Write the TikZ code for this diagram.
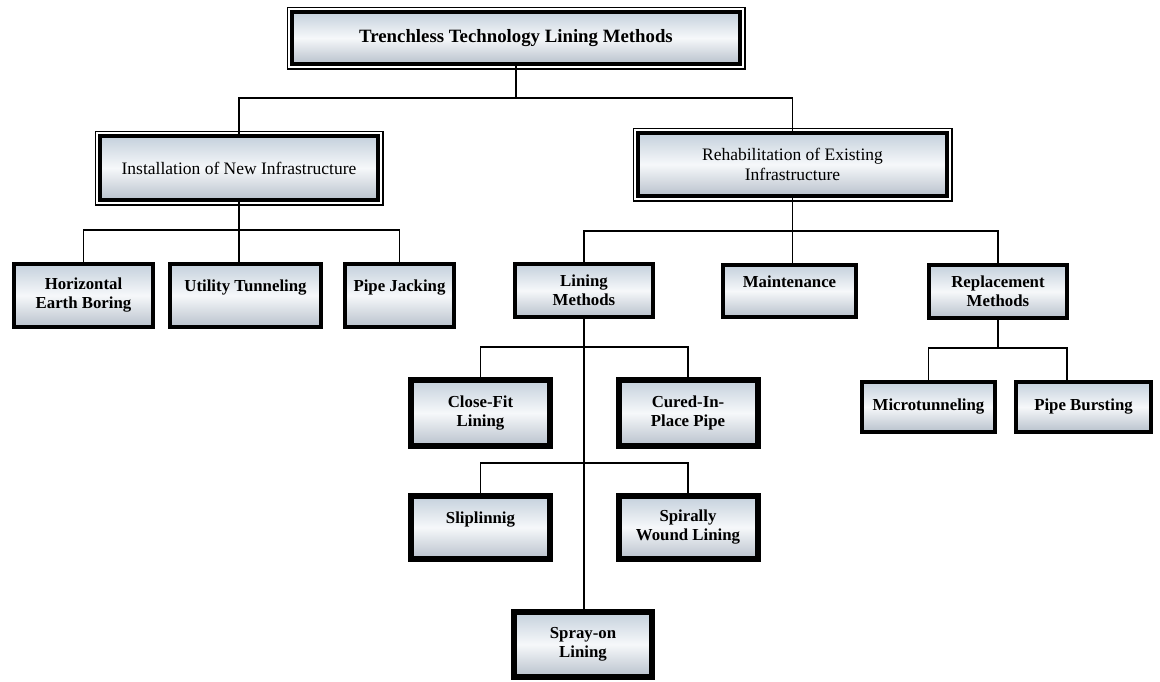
\documentclass[tikz,border=0pt]{standalone}
\usepackage{fontspec}
\setmainfont{Liberation Serif}
\usetikzlibrary{calc}
\definecolor{boxtop}{RGB}{196,208,220}
\definecolor{boxmid}{RGB}{246,248,250}
\definecolor{boxbot}{RGB}{184,193,204}

\begin{document}
\begin{tikzpicture}[x=1pt,y=-1pt]
    \tikzstyle{base box}=[
        rectangle,
        draw = black,
        align = center,
        inner sep = 2pt,
        top color = boxtop,
        bottom color = boxbot,
        middle color = boxmid
    ]
    \tikzstyle{main box}=[base box, line width=3.5pt,
        font=\fontsize{17.5}{20}\selectfont]
    \tikzstyle{leaf box}=[base box, line width=4pt,
        font=\fontsize{16.8}{19}\selectfont\bfseries]
    \tikzstyle{heavy box}=[base box, line width=6pt,
        font=\fontsize{16.8}{19}\selectfont\bfseries]
    \tikzstyle{frame}=[draw = black, line width=1.5pt]
    \tikzstyle{link}=[draw = black, line width=1.5pt]

    \useasboundingbox (0,0) rectangle (1160,681);

    \node[main box, minimum width=448, minimum height=52,
          font=\fontsize{18.8}{21}\selectfont\bfseries] (root) at (516,38) {Trenchless Technology Lining Methods};
    \node[main box, minimum width=278, minimum height=64] (install) at (239,168) {Installation of New Infrastructure};
    \node[main box, minimum width=309, minimum height=63] (rehab) at (792.5,164.5) {Rehabilitation of Existing\\Infrastructure};

    \node[leaf box, minimum width=139, minimum height=63] (boring)  at (83.5,295.5)  {Horizontal\\Earth Boring};
    \node[leaf box, minimum width=151, minimum height=63] (utility) at (245.5,295.5) {Utility Tunneling\\\mbox{}};
    \node[leaf box, minimum width=109, minimum height=63] (jacking) at (399.5,295.5) {Pipe Jacking\\\mbox{}};

    \node[leaf box, minimum width=138, minimum height=53] (lining)  at (584,290.5)   {Lining\\Methods};
    \node[leaf box, minimum width=133, minimum height=52] (maint)   at (789.5,291)   {Maintenance\\\mbox{}};
    \node[leaf box, minimum width=138, minimum height=53] (replace) at (998,291.5)   {Replacement\\Methods};

    \node[heavy box, minimum width=139, minimum height=66] (closefit) at (480.5,413)   {Close-Fit\\Lining};
    \node[heavy box, minimum width=139, minimum height=66] (cipp)     at (688,413)     {Cured-In-\\Place Pipe};
    \node[heavy box, minimum width=139, minimum height=63] (slip)     at (480.5,527.5) {Sliplinnig\\\mbox{}};
    \node[heavy box, minimum width=139, minimum height=63] (spiral)   at (688,527.5)   {Spirally\\Wound Lining};
    \node[heavy box, minimum width=138, minimum height=65] (spray)    at (583,644.5)   {Spray-on\\Lining};

    \node[leaf box, minimum width=133, minimum height=50] (micro) at (928.5,407)  {Microtunneling};
    \node[leaf box, minimum width=135, minimum height=50] (burst) at (1083.5,407) {Pipe Bursting};

    \foreach \n in {root,install,rehab}
        \draw[frame] ($(\n.north west)+(-3,-3)$) rectangle ($(\n.south east)+(3,3)$);

    \coordinate (bus0) at (0,98);
    \coordinate (bus1) at (0,230);
    \coordinate (bus2) at (0,231);
    \coordinate (bus3) at (0,347);
    \coordinate (bus4) at (0,463);
    \coordinate (burstjoin) at (1067,348);

    \draw[link] (root.south) -- (root.south |- bus0);
    \draw[link] (install.north) |- (rehab.north |- bus0) -- (rehab.north);

    \draw[link] (install.south) -- (install.south |- utility.north);
    \draw[link] (boring.north) |- (jacking.north |- bus1) -- (jacking.north);

    \draw[link] (rehab.south) -- (rehab.south |- maint.north);
    \draw[link] (lining.north) |- (replace.north |- bus2) -- (replace.north);

    \draw[link] (lining.south) -- (lining.south |- spray.north);
    \draw[link] (closefit.north) |- (cipp.north |- bus3) -- (cipp.north);
    \draw[link] (slip.north) |- (spiral.north |- bus4) -- (spiral.north);

    \draw[link] (replace.south) -- (replace.south |- burstjoin);
    \draw[link] (micro.north) |- (burstjoin) -- (burstjoin |- burst.north);
\end{tikzpicture}
\end{document}
